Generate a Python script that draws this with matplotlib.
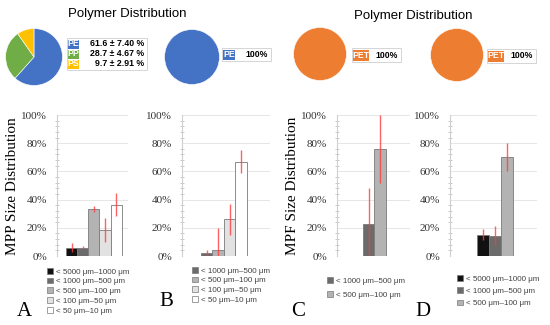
import matplotlib
matplotlib.use("Agg")
import matplotlib.pyplot as plt
from matplotlib.patches import Rectangle, Patch
from matplotlib.ticker import MultipleLocator, FuncFormatter

W, H = 550, 325

# --- polymer pies ---
pie_a_names = ["PE", "PP", "PS"]
pie_a_mean = [61.6, 28.7, 9.7]
pie_a_sd = [7.40, 4.67, 2.91]
pie_b_names = ["PE"]
pie_b_mean = [100]
pie_c_names = ["PET"]
pie_c_mean = [100]
pie_d_names = ["PET"]
pie_d_mean = [100]

poly_colors = {"PE": "#4472C4", "PP": "#70AD47", "PS": "#FFC000", "PET": "#ED7D31"}

# --- size distributions ---
size_classes = ["< 5000 μm–1000 μm", "< 1000 μm–500 μm", "< 500 μm–100 μm",
                "< 100 μm–50 μm", "< 50 μm–10 μm"]
size_colors = ["#111111", "#6b6b6b", "#b3b3b3", "#e2e2e2", "#ffffff"]

a_classes = size_classes
a_vals = [6, 6, 33.5, 18.5, 36.5]
a_err = [3.5, 0.8, 2, 8.5, 8]
b_classes = size_classes[1:]
b_vals = [2, 4.5, 26, 67]
b_err = [2, 15.5, 11, 8]
c_classes = size_classes[1:3]
c_vals = [23, 76]
c_err = [25, 24]
d_classes = size_classes[:3]
d_vals = [15, 14.5, 70]
d_err = [4, 7, 10]


def box(x, y, w, h):
    return [x / W, 1 - (y + h) / H, w / W, h / H]


fig = plt.figure(figsize=(5.5, 3.25), dpi=100)

# overlay in pixel coords for titles / pie keys / letters
ov = fig.add_axes([0, 0, 1, 1])
ov.set_xlim(0, W)
ov.set_ylim(H, 0)
ov.axis("off")


def draw_pie(cx, cy, r, names, vals):
    ax = fig.add_axes(box(cx - r, cy - r, 2 * r, 2 * r))
    ax.pie(vals, colors=[poly_colors[n] for n in names], startangle=90,
           counterclock=False, wedgeprops=dict(edgecolor="white", linewidth=0.4))
    ax.set_xlim(-1.02, 1.02)
    ax.set_ylim(-1.02, 1.02)
    ax.set_aspect("equal")


def pie_key(x, y, keyw, valw, rowh, names, texts):
    n = len(names)
    ov.add_patch(Rectangle((x - 1, y - 1), keyw + valw + 2, n * rowh + 2,
                           facecolor="white", edgecolor="#cfcfcf", lw=0.6))
    for i, (nm, t) in enumerate(zip(names, texts)):
        yy = y + i * rowh
        ov.add_patch(Rectangle((x, yy + 0.5), keyw, rowh - 1,
                               facecolor=poly_colors[nm], edgecolor="none"))
        ov.text(x + keyw / 2, yy + rowh / 2, nm, color="white", weight="bold",
                ha="center", va="center", fontsize=6.3, family="Liberation Sans")
        ov.text(x + keyw + valw - 2, yy + rowh / 2, t, ha="right", va="center",
                weight="bold", fontsize=6.3, family="Liberation Sans")


draw_pie(34, 57, 29, pie_a_names, pie_a_mean)
draw_pie(192, 57, 28, pie_b_names, pie_b_mean)
draw_pie(320, 54, 27, pie_c_names, pie_c_mean)
draw_pie(457, 55, 27, pie_d_names, pie_d_mean)

pie_key(68, 39, 11, 67, 10, pie_a_names,
        [f"{m} ± {s:.2f} %" for m, s in zip(pie_a_mean, pie_a_sd)])
pie_key(223, 49, 12, 35, 11, pie_b_names, [f"{m}%" for m in pie_b_mean])
pie_key(353, 49, 16, 31, 12, pie_c_names, [f"{m}%" for m in pie_c_mean])
pie_key(488, 50, 16, 31, 12, pie_d_names, [f"{m}%" for m in pie_d_mean])

ov.text(127, 14, "Polymer Distribution", ha="center", va="center",
        fontsize=9.5, family="Liberation Sans")
ov.text(413, 16, "Polymer Distribution", ha="center", va="center",
        fontsize=9.5, family="Liberation Sans")


def draw_bars(rect, xlim, classes, vals, err, leg_xy, leg_space):
    ax = fig.add_axes(box(*rect))
    cols = [size_colors[size_classes.index(c)] for c in classes]
    xs = list(range(len(vals)))
    ax.bar(xs, vals, width=1.0, color=cols, edgecolor="#7a7a7a", linewidth=0.6, zorder=2)
    ax.errorbar(xs, vals, yerr=err, fmt="none", ecolor="#ff3b3b", elinewidth=1.0,
                alpha=0.8, capsize=0, zorder=3)
    ax.set_xlim(*xlim)
    ax.set_ylim(0, 100)
    ax.set_xticks([])
    ax.yaxis.set_major_locator(MultipleLocator(20))
    ax.yaxis.set_minor_locator(MultipleLocator(4))
    ax.yaxis.set_major_formatter(FuncFormatter(lambda v, p: f"{v:.0f}%"))
    ax.tick_params(axis="y", which="major", length=0, pad=7, labelsize=8)
    ax.tick_params(axis="y", which="minor", length=2.2, width=0.5,
                   color="#b5b5b5", direction="inout")
    for lab in ax.get_yticklabels():
        lab.set_family("Liberation Serif")
        lab.set_color("#333333")
    ax.grid(axis="y", color="#e2e2e2", linewidth=0.6, zorder=0)
    for s in ["top", "right", "bottom"]:
        ax.spines[s].set_visible(False)
    ax.spines["left"].set_color("#cfcfcf")
    ax.spines["left"].set_linewidth(0.8)
    ax.patch.set_alpha(0)
    handles = [Patch(facecolor=c, edgecolor="#7a7a7a", linewidth=0.5) for c in cols]
    leg = ax.legend(handles, classes, loc="upper left",
                    bbox_to_anchor=(leg_xy[0] / W, 1 - leg_xy[1] / H),
                    bbox_transform=fig.transFigure, frameon=False,
                    prop=dict(family="Liberation Sans", size=5.8),
                    handlelength=0.7, handleheight=0.7, handletextpad=0.4,
                    labelspacing=leg_space, borderpad=0, borderaxespad=0)
    for t in leg.get_texts():
        t.set_color("#404040")
    return ax


draw_bars((57, 115, 71, 141), (-1.3, 5.05), a_classes, a_vals, a_err, (47, 268), 0.26)
draw_bars((182, 115, 88, 141), (-2.15, 5.5), b_classes, b_vals, b_err, (192, 267), 0.26)
draw_bars((337, 115, 73, 141), (-2.76, 3.6), c_classes, c_vals, c_err, (327, 277), 0.78)
draw_bars((450, 115, 87, 141), (-2.75, 4.5), d_classes, d_vals, d_err, (457, 275), 0.58)

ov.text(13, 186, "MPP Size Distribution", rotation=90, ha="center", va="center",
        fontsize=11, family="Liberation Serif")
ov.text(293, 186, "MPF Size Distribution", rotation=90, ha="center", va="center",
        fontsize=11, family="Liberation Serif")

for lx, ly, letter in [(24, 312, "A"), (166, 301, "B"), (298, 312, "C"), (423, 312, "D")]:
    ov.text(lx, ly, letter, ha="center", va="center", fontsize=15,
            family="Liberation Serif")

fig.savefig("out.png", dpi=100)
